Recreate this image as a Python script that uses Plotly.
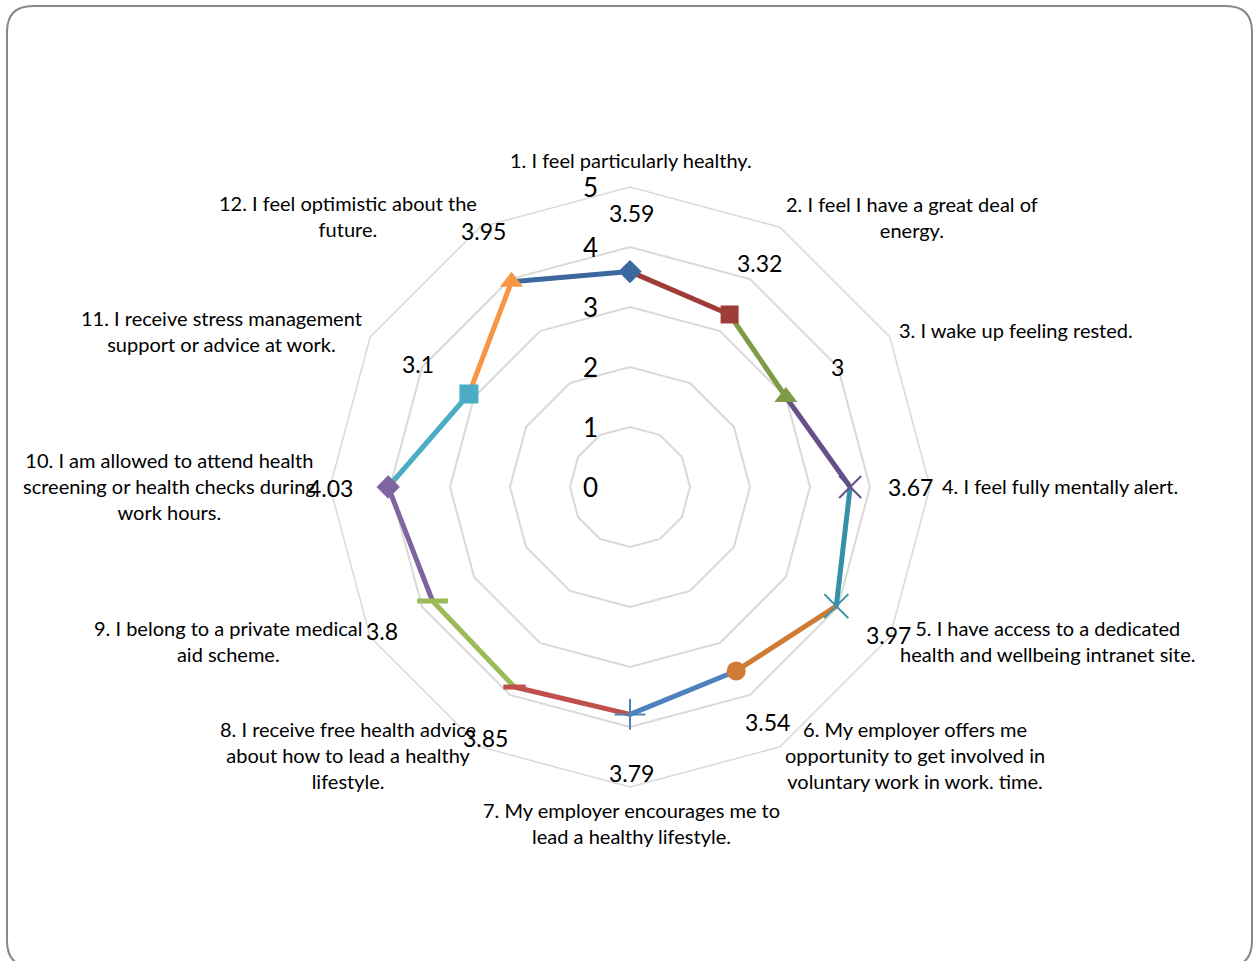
import plotly.graph_objects as go

# ---------------- data ----------------
categories = [
    "1. I feel particularly healthy.",
    "2. I feel I have a great deal of<br>energy.",
    "3. I wake up feeling rested.",
    "4. I feel fully mentally alert.",
    "5. I have access to a dedicated<br>health and wellbeing intranet site.",
    "6. My employer offers me<br>opportunity to get involved in<br>voluntary work in work. time.",
    "7. My employer encourages me to<br>lead a healthy lifestyle.",
    "8. I receive free health advice<br>about how to lead a healthy<br>lifestyle.",
    "9. I belong to a private medical<br>aid scheme.",
    "10. I am allowed to attend health<br>screening or health checks during<br>work hours.",
    "11. I receive stress management<br>support or advice at work.",
    "12. I feel optimistic about the<br>future.",
]
values = [3.59, 3.32, 3.0, 3.67, 3.97, 3.54, 3.79, 3.85, 3.8, 4.03, 3.1, 3.95]
value_labels = ["3.59", "3.32", "3", "3.67", "3.97", "3.54", "3.79", "3.85", "3.8", "4.03", "3.1", "3.95"]
radial_ticks = [0, 1, 2, 3, 4, 5]

# ---------------- styles ----------------
seg_colors = ["#3C68A0", "#9E3C39", "#7E9B45", "#65508A", "#3890A8", "#D07B35",
              "#4F81BD", "#C0504D", "#9BBB59", "#8064A2", "#4BACC6", "#F79646"]
seg_symbols = ["diamond", "square", "triangle-up", "x-thin-open", "x-thin-open", "circle",
               "cross-thin-open", "line-ew-open", "line-ew-open", "diamond", "square", "triangle-up"]
seg_sizes = [18, 18, 20, 22, 24, 19, 22, 16, 22, 18, 19, 20]

W, H = 1253, 961
CX, CY, R = 630, 487, 300  # pixel centre and outer radius of the chart


def px(x):
    return x / W


def py(y):
    return 1 - y / H


# label positions (pixel centres)
cat_label_pos = [(631, 160), (912, 217), (1016, 330), (1060, 486), (1048, 641), (915, 755),
                 (631, 823), (348, 755), (228, 641), (169, 486), (221, 331), (348, 216)]
val_label_pos = [(631, 213), (760, 263), (838, 367), (910, 487), (888, 635), (767, 722),
                 (631, 773), (485, 738), (382, 631), (330, 488), (418, 364), (483, 231)]

FONT = "Lato, 'Open Sans', sans-serif"

fig = go.Figure()
n = len(categories)
# line segments (segment i goes from point i-1 to point i)
for i in range(n):
    j = (i - 1) % n
    fig.add_trace(go.Scatterpolar(
        r=[values[j], values[i]], theta=[categories[j], categories[i]],
        mode="lines", line=dict(color=seg_colors[i], width=5),
        showlegend=False, hoverinfo="skip"))
# markers
for i in range(n):
    open_sym = seg_symbols[i].endswith("open")
    fig.add_trace(go.Scatterpolar(
        r=[values[i]], theta=[categories[i]], mode="markers",
        marker=dict(symbol=seg_symbols[i], size=seg_sizes[i], color=seg_colors[i],
                    line=dict(color=seg_colors[i], width=(2 if "thin" in seg_symbols[i] else 5) if open_sym else 0)),
        showlegend=False, name=categories[i]))

annotations = []
for txt, (x, y) in zip(categories, cat_label_pos):
    annotations.append(dict(text=txt, x=px(x), y=py(y), xref="paper", yref="paper",
                            showarrow=False, align="center", xanchor="center", yanchor="middle",
                            font=dict(family=FONT, size=20, color="#000000")))
for txt, (x, y) in zip(value_labels, val_label_pos):
    annotations.append(dict(text=txt, x=px(x), y=py(y), xref="paper", yref="paper",
                            showarrow=False, xanchor="center", yanchor="middle",
                            font=dict(family=FONT, size=23, color="#000000")))
for t in radial_ticks:
    annotations.append(dict(text=str(t), x=px(CX - 40), y=py(CY - t * R / 5), xref="paper", yref="paper",
                            showarrow=False, xanchor="center", yanchor="middle",
                            font=dict(family=FONT, size=26, color="#000000")))

# rounded frame
x0, y0, x1, y1, rr = 7, 6, 1252, 967, 26
path = (f"M {px(x0)},{py(y0 + rr)} L {px(x0)},{py(y1 - rr)} "
        f"Q {px(x0)},{py(y1)} {px(x0 + rr)},{py(y1)} L {px(x1 - rr)},{py(y1)} "
        f"Q {px(x1)},{py(y1)} {px(x1)},{py(y1 - rr)} L {px(x1)},{py(y0 + rr)} "
        f"Q {px(x1)},{py(y0)} {px(x1 - rr)},{py(y0)} L {px(x0 + rr)},{py(y0)} "
        f"Q {px(x0)},{py(y0)} {px(x0)},{py(y0 + rr)} Z")

fig.update_layout(
    width=W, height=H, margin=dict(l=0, r=0, t=0, b=0),
    paper_bgcolor="white", plot_bgcolor="white",
    showlegend=False,
    polar=dict(
        domain=dict(x=[px(CX - R), px(CX + R)], y=[py(CY + R), py(CY - R)]),
        bgcolor="white",
        gridshape="linear",
        radialaxis=dict(range=[0, 5], dtick=1, tick0=0, showticklabels=False, ticks="",
                        showline=False, gridcolor="#D9D9D9", gridwidth=1.5, angle=90),
        angularaxis=dict(rotation=90, direction="clockwise", showticklabels=False, ticks="",
                         showgrid=False, showline=True, linecolor="#D9D9D9", linewidth=1.5,
                         categoryarray=categories, categoryorder="array"),
    ),
    annotations=annotations,
    shapes=[dict(type="path", path=path, xref="paper", yref="paper",
                 line=dict(color="#888888", width=2), fillcolor="rgba(0,0,0,0)")],
)

fig.write_html("out.html")
